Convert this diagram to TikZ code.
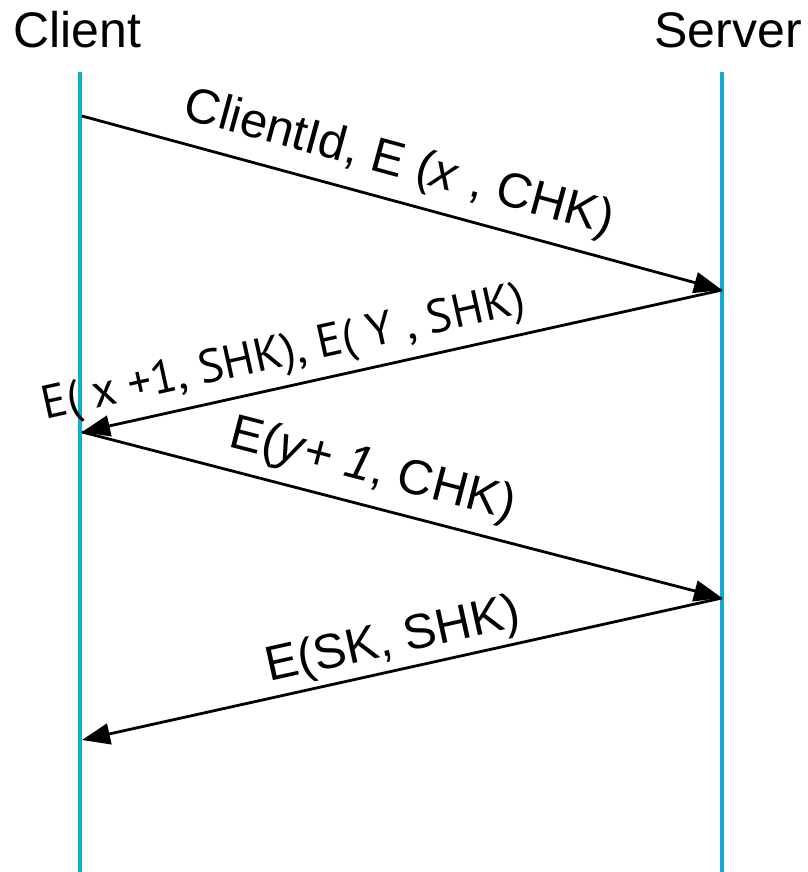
\documentclass[tikz,border=0pt]{standalone}
\usepackage{fontspec}
\setmainfont{Liberation Sans}
\newfontfamily\humfont{PT Sans}
\usetikzlibrary{arrows.meta}
\definecolor{life}{RGB}{18,172,206}
\begin{document}
\begin{tikzpicture}[x=1pt,y=-1pt,
  lifeline/.style={draw=life, line width=3.6pt},
  msg/.style={draw=black, line width=2.8pt, -{Triangle[length=28pt,width=21pt]}},
  title/.style={font=\fontsize{50}{58}\selectfont, inner sep=0pt},
  lbl/.style={font=\fontsize{49}{56}\selectfont, sloped, anchor=base, inner sep=0pt},
  lblh/.style={font=\humfont\fontsize{47}{56}\selectfont, sloped, anchor=base, inner sep=0pt}]
\useasboundingbox (0,0) rectangle (807,872);
\node[title, anchor=base west] (client) at (13,48) {Client};
\node[title, anchor=base east] (server) at (802,48) {Server};
\coordinate (ctop) at (80,72);
\coordinate (cbot) at (80,872);
\coordinate (stop) at (722,72);
\coordinate (sbot) at (722,872);
\draw[lifeline] (ctop) -- (cbot);
\draw[lifeline] (stop) -- (sbot);
\coordinate (c1) at (82,116);
\coordinate (s1) at (722,290);
\coordinate (c2) at (82,432);
\coordinate (s2) at (722,598);
\coordinate (c3) at (82,740);
\draw[msg] (c1) -- node[lbl, pos=0.48, yshift=24pt] (l1) {ClientId, E (\textit{x} , CHK)} (s1);
\draw[msg] (s1) -- node[lblh, pos=0.674, yshift=20pt] (l2) {E( x +1, SHK), E( Y , SHK)} (c2);
\draw[msg] (c2) -- node[lbl, pos=0.44, yshift=23pt] (l3) {E(\textit{y}+ \textit{1}, CHK)} (s2);
\draw[msg] (s2) -- node[lbl, pos=0.504, yshift=16pt] (l4) {E(SK, SHK)} (c3);
\end{tikzpicture}
\end{document}
